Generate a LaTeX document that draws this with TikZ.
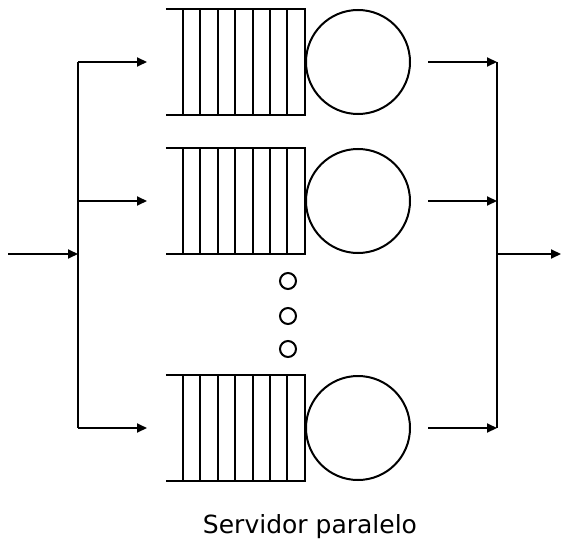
\documentclass[tikz,border=0pt]{standalone}
\usepackage{fontspec}
\newfontfamily\labelfont{DejaVu Sans}
\usetikzlibrary{arrows.meta}
\begin{document}
\begin{tikzpicture}[x=1pt,y=-1pt,
  line/.style={line width=2pt},
  arr/.style={line width=2pt,-{Triangle[length=10pt,width=9pt]}},
  qbox/.style={rectangle,minimum width=139pt,minimum height=105pt,inner sep=0pt},
  server/.style={circle,draw,line width=2pt,minimum size=104pt,inner sep=0pt},
  dot/.style={circle,draw,line width=2pt,minimum size=16pt,inner sep=0pt}]
\useasboundingbox (0,0) rectangle (561,540);
% queues and servers
\foreach \i/\y in {1/62,2/201,3/428}{
  \node[qbox] (q\i) at (235.5,\y) {};
  \node[server] (s\i) at (358,\y) {};
  \draw[line] (q\i.north west) -- (q\i.north east) -- (q\i.south east) -- (q\i.south west);
  \foreach \k in {0,...,6}{
    \pgfmathsetmacro{\dx}{17+17.43*\k}
    \draw[line] ([xshift=\dx pt]q\i.north west) -- ([xshift=\dx pt]q\i.south west);
  }
  \coordinate (l\i) at (78,\y);
  \coordinate (a\i) at (147,\y);
  \coordinate (b\i) at (428,\y);
  \coordinate (r\i) at (497,\y);
  \draw[arr] (l\i) -- (a\i);
  \draw[arr] (b\i) -- (r\i);
}
% dots
\node[dot] (d1) at (288,281) {};
\node[dot] (d2) at (288,316) {};
\node[dot] (d3) at (288,349) {};
% branching lines
\coordinate (in) at (8,254);
\coordinate (jl) at (78,254);
\coordinate (jr) at (497,254);
\coordinate (out) at (561,254);
\draw[line] (l1) -- (l3);
\draw[line] (r1) -- (r3);
\draw[arr] (in) -- (jl);
\draw[arr] (jr) -- (out);
% label
\node[anchor=base,font=\labelfont\fontsize{25}{30}\selectfont] (lab) at (310,533) {Servidor paralelo};
\end{tikzpicture}
\end{document}
